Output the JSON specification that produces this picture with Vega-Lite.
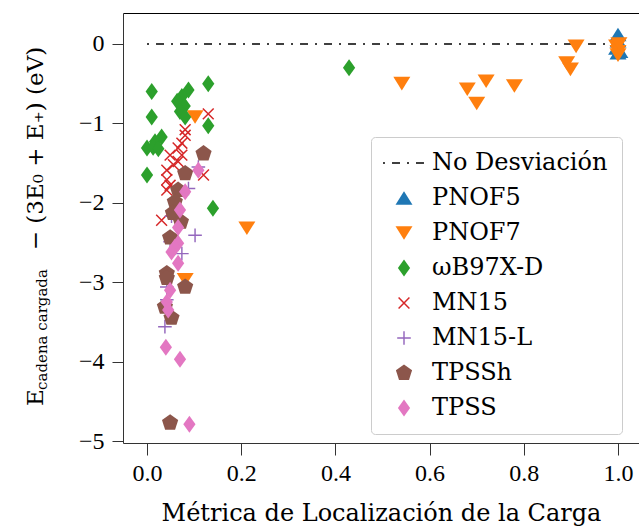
{
  "$schema": "https://vega.github.io/schema/vega-lite/v6.json",
  "width": 516,
  "height": 430,
  "autosize": {"type": "none"},
  "padding": {"left": 123, "top": 13, "right": 0, "bottom": 86},
  "background": "white",
  "config": {
    "view": {"stroke": null},
    "font": "'DejaVu Serif', serif",
    "legend": {
      "fillColor": "white",
      "strokeColor": "#cccccc",
      "cornerRadius": 4,
      "padding": 14,
      "labelFont": "'DejaVu Serif', serif",
      "labelFontSize": 24,
      "labelColor": "black",
      "symbolSize": 289,
      "symbolStrokeWidth": 0,
      "symbolOpacity": 1,
      "rowPadding": 11,
      "labelOffset": 16,
      "symbolOffset": 7,
      "labelLimit": 400
    }
  },
  "layer": [
    {
      "data": {"values": [{"x0": 0, "x1": 1, "y0": 0}]},
      "mark": {"type": "rule", "color": "black", "strokeWidth": 1.5, "strokeDash": [8, 7, 2, 7], "strokeDashOffset": 15},
      "encoding": {
        "x": {
          "field": "x0", "type": "quantitative",
          "scale": {"domain": [-0.051, 1.0446], "nice": false, "zero": false},
          "axis": {
            "orient": "bottom", "values": [0, 0.2, 0.4, 0.6, 0.8, 1.0], "format": ".1f", "grid": false,
            "tickSize": 12, "tickColor": "#333333", "domainColor": "#333333", "tickWidth": 1, "domainWidth": 1,
            "labelFont": "'Liberation Serif', serif", "labelFontSize": 24, "labelColor": "black", "labelPadding": 6,
            "title": "Métrica de Localización de la Carga",
            "titleFont": "'DejaVu Serif', serif", "titleFontSize": 24, "titleFontWeight": "normal", "titleColor": "black", "titlePadding": 16
          }
        },
        "x2": {"field": "x1"},
        "y": {
          "field": "y0", "type": "quantitative",
          "scale": {"domain": [-5.025, 0.39], "nice": false, "zero": false},
          "axis": {
            "orient": "left", "values": [-5, -4, -3, -2, -1, 0], "format": "d", "grid": false,
            "tickSize": 11, "tickColor": "#333333", "domainColor": "#333333", "tickWidth": 1, "domainWidth": 1,
            "labelFont": "'Liberation Serif', serif", "labelFontSize": 24, "labelColor": "black", "labelPadding": 8,
            "title": "− (3E₀ + E₊) (eV)",
            "titleFont": "'DejaVu Serif', serif", "titleFontSize": 23, "titleFontWeight": "normal", "titleColor": "black",
            "titleAngle": 270, "titleX": -81, "titleY": 135, "titleAlign": "center", "titleBaseline": "alphabetic"
          }
        }
      }
    },
    {
      "data": {
        "values": [
          {"metodo": "PNOF5", "x": 1.0, "y": 0.12},
          {"metodo": "PNOF5", "x": 1.0, "y": 0.04},
          {"metodo": "PNOF5", "x": 0.997, "y": -0.05},
          {"metodo": "PNOF5", "x": 1.0, "y": -0.11},
          {"metodo": "PNOF5", "x": 1.004, "y": -0.09},
          {"metodo": "PNOF7", "x": 0.102, "y": -0.92},
          {"metodo": "PNOF7", "x": 0.212, "y": -2.32},
          {"metodo": "PNOF7", "x": 0.081, "y": -2.97},
          {"metodo": "PNOF7", "x": 0.541, "y": -0.50},
          {"metodo": "PNOF7", "x": 0.680, "y": -0.57},
          {"metodo": "PNOF7", "x": 0.720, "y": -0.47},
          {"metodo": "PNOF7", "x": 0.700, "y": -0.75},
          {"metodo": "PNOF7", "x": 0.780, "y": -0.53},
          {"metodo": "PNOF7", "x": 0.891, "y": -0.24},
          {"metodo": "PNOF7", "x": 0.899, "y": -0.32},
          {"metodo": "PNOF7", "x": 0.911, "y": -0.03},
          {"metodo": "PNOF7", "x": 0.997, "y": -0.03},
          {"metodo": "PNOF7", "x": 1.0, "y": -0.10},
          {"metodo": "PNOF7", "x": 1.0, "y": -0.14},
          {"metodo": "PNOF7", "x": 1.002, "y": 0.0},
          {"metodo": "ωB97X-D", "x": 0.010, "y": -0.60},
          {"metodo": "ωB97X-D", "x": 0.130, "y": -0.50},
          {"metodo": "ωB97X-D", "x": 0.088, "y": -0.58},
          {"metodo": "ωB97X-D", "x": 0.074, "y": -0.66},
          {"metodo": "ωB97X-D", "x": 0.064, "y": -0.72},
          {"metodo": "ωB97X-D", "x": 0.080, "y": -0.78},
          {"metodo": "ωB97X-D", "x": 0.070, "y": -0.85},
          {"metodo": "ωB97X-D", "x": 0.081, "y": -0.92},
          {"metodo": "ωB97X-D", "x": 0.010, "y": -0.92},
          {"metodo": "ωB97X-D", "x": 0.130, "y": -1.03},
          {"metodo": "ωB97X-D", "x": 0.031, "y": -1.17},
          {"metodo": "ωB97X-D", "x": 0.017, "y": -1.23},
          {"metodo": "ωB97X-D", "x": 0.0, "y": -1.31},
          {"metodo": "ωB97X-D", "x": 0.013, "y": -1.30},
          {"metodo": "ωB97X-D", "x": 0.024, "y": -1.32},
          {"metodo": "ωB97X-D", "x": 0.0, "y": -1.65},
          {"metodo": "ωB97X-D", "x": 0.140, "y": -2.07},
          {"metodo": "ωB97X-D", "x": 0.429, "y": -0.30},
          {"metodo": "MN15", "x": 0.130, "y": -0.88},
          {"metodo": "MN15", "x": 0.081, "y": -1.08},
          {"metodo": "MN15", "x": 0.081, "y": -1.15},
          {"metodo": "MN15", "x": 0.074, "y": -1.25},
          {"metodo": "MN15", "x": 0.066, "y": -1.31},
          {"metodo": "MN15", "x": 0.049, "y": -1.40},
          {"metodo": "MN15", "x": 0.074, "y": -1.40},
          {"metodo": "MN15", "x": 0.066, "y": -1.48},
          {"metodo": "MN15", "x": 0.056, "y": -1.52},
          {"metodo": "MN15", "x": 0.042, "y": -1.59},
          {"metodo": "MN15", "x": 0.120, "y": -1.65},
          {"metodo": "MN15", "x": 0.042, "y": -1.71},
          {"metodo": "MN15", "x": 0.049, "y": -1.78},
          {"metodo": "MN15", "x": 0.042, "y": -1.84},
          {"metodo": "MN15", "x": 0.031, "y": -2.22},
          {"metodo": "MN15-L", "x": 0.109, "y": -1.55},
          {"metodo": "MN15-L", "x": 0.088, "y": -1.82},
          {"metodo": "MN15-L", "x": 0.052, "y": -2.17},
          {"metodo": "MN15-L", "x": 0.102, "y": -2.41},
          {"metodo": "MN15-L", "x": 0.049, "y": -2.49},
          {"metodo": "MN15-L", "x": 0.074, "y": -2.64},
          {"metodo": "MN15-L", "x": 0.042, "y": -3.06},
          {"metodo": "MN15-L", "x": 0.042, "y": -3.22},
          {"metodo": "MN15-L", "x": 0.038, "y": -3.56},
          {"metodo": "TPSSh", "x": 0.120, "y": -1.38},
          {"metodo": "TPSSh", "x": 0.081, "y": -1.63},
          {"metodo": "TPSSh", "x": 0.066, "y": -1.84},
          {"metodo": "TPSSh", "x": 0.059, "y": -1.99},
          {"metodo": "TPSSh", "x": 0.055, "y": -2.13},
          {"metodo": "TPSSh", "x": 0.072, "y": -2.24},
          {"metodo": "TPSSh", "x": 0.049, "y": -2.44},
          {"metodo": "TPSSh", "x": 0.042, "y": -2.89},
          {"metodo": "TPSSh", "x": 0.042, "y": -2.95},
          {"metodo": "TPSSh", "x": 0.081, "y": -3.06},
          {"metodo": "TPSSh", "x": 0.038, "y": -3.31},
          {"metodo": "TPSSh", "x": 0.052, "y": -3.45},
          {"metodo": "TPSSh", "x": 0.049, "y": -4.77},
          {"metodo": "TPSS", "x": 0.109, "y": -1.59},
          {"metodo": "TPSS", "x": 0.081, "y": -1.86},
          {"metodo": "TPSS", "x": 0.070, "y": -2.09},
          {"metodo": "TPSS", "x": 0.066, "y": -2.31},
          {"metodo": "TPSS", "x": 0.066, "y": -2.51},
          {"metodo": "TPSS", "x": 0.059, "y": -2.56},
          {"metodo": "TPSS", "x": 0.052, "y": -2.62},
          {"metodo": "TPSS", "x": 0.066, "y": -2.76},
          {"metodo": "TPSS", "x": 0.049, "y": -3.10},
          {"metodo": "TPSS", "x": 0.042, "y": -3.25},
          {"metodo": "TPSS", "x": 0.045, "y": -3.35},
          {"metodo": "TPSS", "x": 0.040, "y": -3.82},
          {"metodo": "TPSS", "x": 0.070, "y": -3.97},
          {"metodo": "TPSS", "x": 0.090, "y": -4.79}
        ]
      },
      "mark": {"type": "point", "filled": true, "size": 289, "opacity": 1, "strokeWidth": 0},
      "encoding": {
        "x": {
          "field": "x", "type": "quantitative",
          "scale": {"domain": [-0.051, 1.0446], "nice": false, "zero": false},
          "axis": {
            "orient": "top", "labels": false, "ticks": false, "grid": false, "domain": true,
            "domainColor": "black", "domainWidth": 1,
            "title": "E", "titleFont": "'DejaVu Serif', serif", "titleFontSize": 23, "titleFontWeight": "normal", "titleColor": "black",
            "titleAngle": 270, "titleX": -81, "titleY": 384, "titleAlign": "center", "titleBaseline": "alphabetic"
          }
        },
        "y": {
          "field": "y", "type": "quantitative",
          "scale": {"domain": [-5.025, 0.39], "nice": false, "zero": false},
          "axis": {
            "orient": "left", "labels": false, "ticks": false, "grid": false, "domain": false,
            "title": "cadena cargada", "titleFont": "'DejaVu Serif', serif", "titleFontSize": 15, "titleFontWeight": "normal", "titleColor": "black",
            "titleAngle": 270, "titleX": -77, "titleY": 316, "titleAlign": "center", "titleBaseline": "alphabetic"
          }
        },
        "color": {
          "field": "metodo", "type": "nominal",
          "scale": {
            "domain": ["No Desviación", "PNOF5", "PNOF7", "ωB97X-D", "MN15", "MN15-L", "TPSSh", "TPSS"],
            "range": ["#000000", "#1f77b4", "#ff7f0e", "#2ca02c", "#d62728", "#9467bd", "#8c564b", "#e377c2"]
          },
          "legend": {"title": null, "orient": "none", "legendX": 248, "legendY": 124}
        },
        "shape": {
          "field": "metodo", "type": "nominal",
          "scale": {
            "domain": ["No Desviación", "PNOF5", "PNOF7", "ωB97X-D", "MN15", "MN15-L", "TPSSh", "TPSS"],
            "range": [
              "M -2.47,-0.09 L -2.24,-0.09 L -2.24,0.09 L -2.47,0.09 Z M -1.41,-0.09 L -0.47,-0.09 L -0.47,0.09 L -1.41,0.09 Z M 0.35,-0.09 L 0.59,-0.09 L 0.59,0.09 L 0.35,0.09 Z M 1.41,-0.09 L 2.35,-0.09 L 2.35,0.09 L 1.41,0.09 Z",
              "M 0,-0.8 L 1,0.8 L -1,0.8 Z",
              "M -1,-0.8 L 1,-0.8 L 0,0.8 Z",
              "M 0,-1 L 0.72,0 L 0,1 L -0.72,0 Z",
              "M -0.575,-0.7 L 0.7,0.575 L 0.575,0.7 L -0.7,-0.575 Z M 0.575,-0.7 L 0.7,-0.575 L -0.575,0.7 L -0.7,0.575 Z",
              "M -0.8,-0.085 L 0.8,-0.085 L 0.8,0.085 L -0.8,0.085 Z M -0.085,-0.8 L 0.085,-0.8 L 0.085,0.8 L -0.085,0.8 Z",
              "M 0,-1 L 0.951,-0.309 L 0.588,0.809 L -0.588,0.809 L -0.951,-0.309 Z",
              "M 0,-1 L 0.72,0 L 0,1 L -0.72,0 Z"
            ]
          },
          "legend": {"title": null, "orient": "none", "legendX": 248, "legendY": 124}
        }
      }
    }
  ],
  "resolve": {"axis": {"x": "independent", "y": "independent"}}
}
